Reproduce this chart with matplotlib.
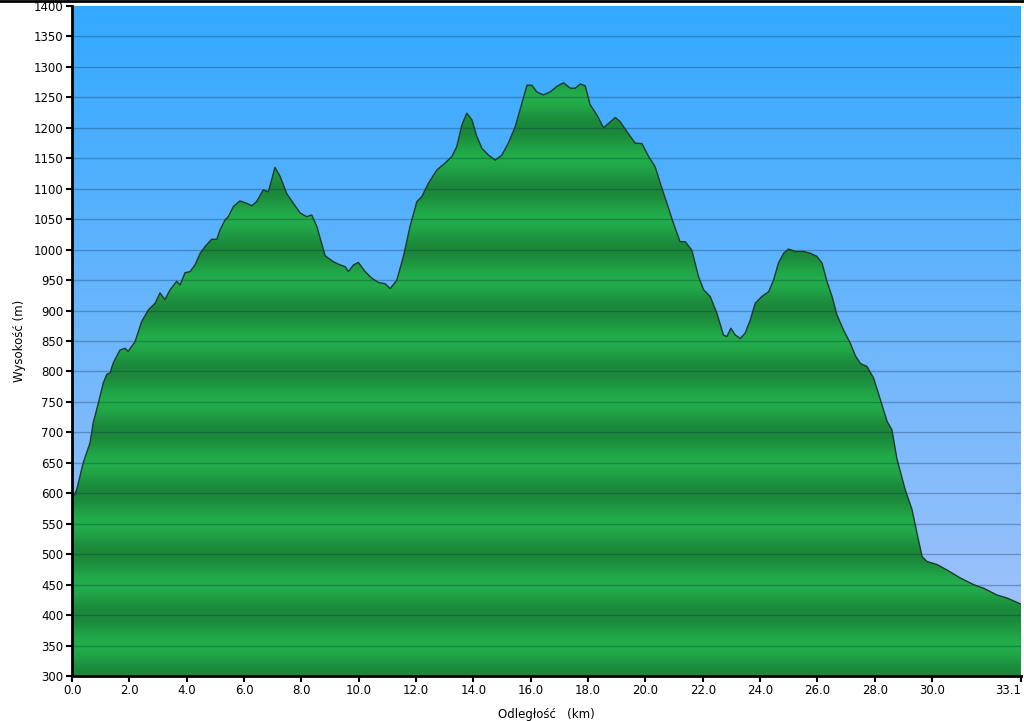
import numpy as np
import matplotlib
matplotlib.use("Agg")
import matplotlib.pyplot as plt
from matplotlib.colors import to_rgb

# distance (km) and elevation (m) read from the profile
dist_km = [
    0.00, 0.16, 0.39, 0.63, 0.74, 0.92, 1.09, 1.21, 1.33, 1.44,
    1.67, 1.85, 1.96, 2.20, 2.43, 2.66, 2.90, 3.07, 3.24, 3.42,
    3.65, 3.77, 3.94, 4.12, 4.29, 4.47, 4.64, 4.87, 5.05, 5.16,
    5.34, 5.45, 5.63, 5.86, 6.10, 6.27, 6.44, 6.67, 6.85, 7.08,
    7.26, 7.49, 7.72, 7.96, 8.19, 8.36, 8.54, 8.83, 9.12, 9.35,
    9.53, 9.64, 9.82, 9.99, 10.22, 10.46, 10.69, 10.92, 11.10, 11.33,
    11.56, 11.79, 12.03, 12.20, 12.43, 12.73, 13.01, 13.25, 13.42, 13.60,
    13.77, 13.95, 14.12, 14.30, 14.53, 14.76, 14.99, 15.22, 15.46, 15.69,
    15.87, 16.04, 16.21, 16.44, 16.68, 16.91, 17.14, 17.38, 17.55, 17.73,
    17.90, 18.07, 18.31, 18.54, 18.71, 18.95, 19.12, 19.35, 19.64, 19.88,
    20.11, 20.34, 20.52, 20.75, 20.98, 21.21, 21.39, 21.62, 21.85, 22.03,
    22.26, 22.49, 22.72, 22.84, 22.98, 23.13, 23.31, 23.48, 23.66, 23.83,
    24.06, 24.30, 24.47, 24.64, 24.82, 24.99, 25.23, 25.52, 25.75, 25.98,
    26.16, 26.33, 26.51, 26.68, 26.91, 27.15, 27.32, 27.50, 27.73, 27.96,
    28.23, 28.43, 28.60, 28.77, 29.06, 29.30, 29.47, 29.65, 29.82, 30.17,
    30.52, 30.98, 31.45, 31.80, 32.26, 32.61, 33.10,
]
elev_m = [
    590, 605, 650, 683, 716, 748, 781, 795, 798, 814,
    835, 838, 833, 849, 882, 901, 912, 929, 918, 934,
    948, 942, 962, 964, 975, 994, 1005, 1017, 1017, 1032,
    1049, 1054, 1071, 1080, 1076, 1072, 1079, 1098, 1095, 1135,
    1120, 1092, 1076, 1060, 1054, 1057, 1038, 990, 980, 975,
    972, 964, 975, 979, 964, 953, 946, 944, 936, 950,
    989, 1038, 1079, 1087, 1109, 1131, 1142, 1153, 1169, 1205,
    1224, 1213, 1186, 1166, 1155, 1147, 1155, 1175, 1202, 1240,
    1270, 1270, 1259, 1254, 1259, 1268, 1274, 1265, 1265, 1272,
    1269, 1238, 1221, 1200, 1207, 1217, 1210, 1194, 1175, 1174,
    1153, 1136, 1109, 1076, 1043, 1013, 1013, 999, 956, 934,
    923, 896, 860, 857, 871, 860, 854, 863, 885, 912,
    923, 931, 950, 978, 994, 1001, 997, 997, 994, 989,
    978, 948, 923, 893, 868, 846, 826, 813, 808, 789,
    748, 718, 704, 657, 606, 573, 535, 496, 488, 483,
    474, 461, 450, 444, 433, 428, 418,
]

x_ticks = [0, 2, 4, 6, 8, 10, 12, 14, 16, 18, 20, 22, 24, 26, 28, 30, 33.1]
y_ticks = list(range(300, 1401, 50))

x_max = 33.1
y_min, y_max = 300, 1400

fig = plt.figure(figsize=(10.24, 7.21), dpi=100)
ax = fig.add_axes([72 / 1024, 1 - 676 / 721, 949 / 1024, 670 / 721])
ax.set_xlim(0, x_max)
ax.set_ylim(y_min, y_max)

# sky gradient
levels = np.linspace(y_min, y_max, 800)
t = (levels - y_min) / (y_max - y_min)
sky_top = np.array(to_rgb("#33a9ff"))
sky_bot = np.array(to_rgb("#a8c4fa"))
sky = sky_bot[None, :] * (1 - t[:, None]) + sky_top[None, :] * t[:, None]
ax.imshow(sky[:, None, :], extent=[0, x_max, y_min, y_max], origin="lower",
          aspect="auto", zorder=0)

# green banded fill, darkest at every 100 m
dark = (1 + np.cos(2 * np.pi * levels / 100)) / 2
g_light = np.array(to_rgb("#22ad4b"))
g_dark = np.array(to_rgb("#1b873a"))
green = g_light[None, :] * (1 - dark[:, None]) + g_dark[None, :] * dark[:, None]
img = ax.imshow(green[:, None, :], extent=[0, x_max, y_min, y_max], origin="lower",
                aspect="auto", zorder=1)
poly = ax.fill_between(dist_km, elev_m, y_min, color="none", lw=0)
img.set_clip_path(poly.get_paths()[0], transform=ax.transData)

ax.plot(dist_km, elev_m, color="#1d3b2c", lw=1.0, zorder=3)

for yv in y_ticks[1:-1]:
    ax.axhline(yv, color="#0a2a40", alpha=0.3, lw=1, zorder=2)

ax.set_xticks(x_ticks)
ax.set_xticklabels([f"{v:.1f}" for v in x_ticks], fontsize=8.5)
ax.get_xticklabels()[-1].set_horizontalalignment("right")
ax.set_yticks(y_ticks)
ax.set_yticklabels([str(v) for v in y_ticks], fontsize=8.5)
ax.tick_params(direction="out", length=4, width=1.5, colors="black", pad=2)

for side in ["top", "right"]:
    ax.spines[side].set_visible(False)
for side in ["left", "bottom"]:
    ax.spines[side].set_linewidth(2)
    ax.spines[side].set_zorder(5)

ax.set_xlabel("Odległość   (km)", fontsize=8.5, labelpad=8)
ax.set_ylabel("Wysokość (m)", fontsize=8.5, labelpad=6)

fig.add_artist(plt.Line2D([0, 1], [0.9985, 0.9985], color="black", lw=2,
                          transform=fig.transFigure, zorder=10))

fig.savefig("out.png", dpi=100)
